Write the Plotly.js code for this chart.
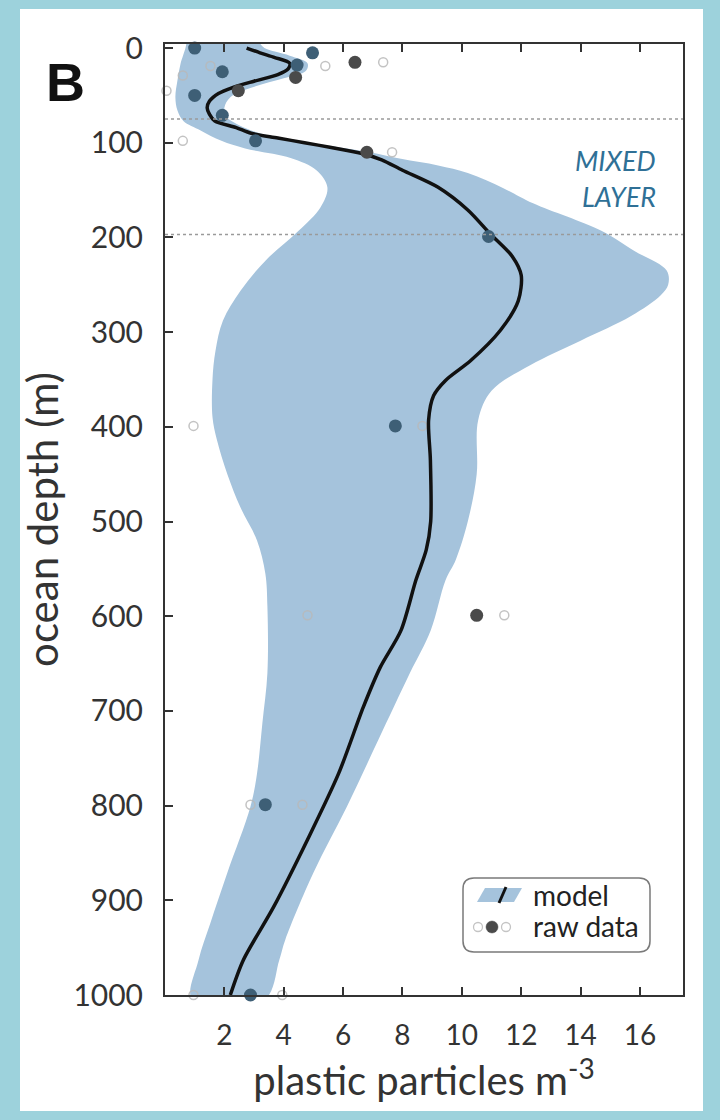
<!DOCTYPE html>
<html>
<head>
<meta charset="utf-8">
<script src="https://cdn.plot.ly/plotly-3.0.1.min.js"></script>
<style>html,body{margin:0;padding:0;background:#9dd2dc;}#chart{width:720px;height:1120px;}</style>
</head>
<body>
<div id="chart"></div>
<script>
// ---- data ----
const meanDepth = [0,5,10,16,22,28,35,42,48,56,63,70,77,84,90,95,100,105,111,118,129,147,171,196,220,240,267,298,330,351,367,393,435,500,530,562,615,654,696,766,836,907,963,1000];
const meanX     = [2.75,3.2,3.7,4.2,4.15,3.8,3.0,2.25,1.8,1.5,1.42,1.5,1.68,2.4,2.9,3.8,4.7,5.6,6.6,7.3,8.0,9.2,10.2,10.95,11.7,12.0,11.9,11.3,10.3,9.45,9.05,8.88,8.94,8.95,8.8,8.45,7.95,7.25,6.68,5.85,4.8,3.66,2.64,2.2];

const bandRightDepth = [-5,0,8,16,24,32,42,52,63,72,80,87,93,100,105,110,117,124,132,148,164,193,214,235,250,261,283,309,335,362,393,450,500,540,562,615,660,731,801,871,942,963,1005];
const bandRightX     = [3.2,3.35,4.2,4.8,4.75,4.0,2.9,2.2,2.0,2.05,2.4,2.9,3.6,4.9,5.9,6.9,7.95,9.2,10.2,11.4,12.4,14.7,15.8,16.9,16.95,16.7,15.7,14.0,12.3,11.0,10.55,10.5,10.2,9.8,9.45,8.95,8.25,7.18,6.13,5.0,4.05,3.85,3.35];

const bandLeftDepth = [-5,0,17,34,52,66,77,87,98,106,116,129,147,168,193,224,256,288,320,350,390,414,450,485,520,555,590,660,713,766,801,871,924,963,1005];
const bandLeftX     = [0.72,0.69,0.52,0.42,0.35,0.42,0.62,1.2,1.9,2.7,4.23,5.1,5.47,5.24,4.5,3.4,2.55,1.95,1.7,1.6,1.6,1.75,2.1,2.54,3.1,3.38,3.45,3.45,3.28,3.1,2.88,2.1,1.53,1.13,0.92];

// raw data: filled points (two shades) and open points
const rawBlueX     = [1.0,4.97,4.45,1.93,1.0,1.93,3.05,10.9,7.76,3.38,2.88];
const rawBlueDepth = [0,5,18,25,50,71,98,199,399,799,1000];
const rawGrayX     = [6.4,4.4,2.47,6.8,10.5];
const rawGrayDepth = [15,31,45,110,599];
const rawOpenX     = [5.4,7.35,1.53,0.6,0.05,0.6,7.65,0.96,8.67,4.8,11.43,2.88,4.63,0.96,3.95];
const rawOpenDepth = [19,15,19,29,45,98,110,399,399,599,599,799,799,1000,1000];

const xTicks = [2,4,6,8,10,12,14,16];
const yTicks = [0,100,200,300,400,500,600,700,800,900,1000];
const mixedLayerLines = [75,197];

// ---- styling ----
const bandColor = '#a5c3dc';
const axisColor = '#333333';
const textFont = 'Lato, "Open Sans", sans-serif';

// pixel -> paper helpers for decorations (plot area: x 165..683, y 44..995)
const L = 165, R = 683, T = 44, B = 995;
const px = v => (v - L) / (R - L);
const py = v => (B - v) / (B - T);

const bandX = bandRightX.concat(bandLeftX.slice().reverse());
const bandY = bandRightDepth.concat(bandLeftDepth.slice().reverse());

const traces = [
  {type:'scatter', mode:'lines', x:bandX, y:bandY, fill:'toself', fillcolor:bandColor,
   line:{width:0, shape:'spline', smoothing:1, color:bandColor}, hoverinfo:'skip', showlegend:false},
  {type:'scatter', mode:'markers', x:rawOpenX, y:rawOpenDepth, cliponaxis:false, showlegend:false,
   marker:{symbol:'circle-open', size:9, color:'rgba(185,185,185,0.85)', line:{width:1.5}}},
  {type:'scatter', mode:'lines', x:meanX, y:meanDepth, showlegend:false,
   line:{color:'#111111', width:3.5, shape:'spline', smoothing:0.8}},
  {type:'scatter', mode:'markers', x:rawBlueX, y:rawBlueDepth, cliponaxis:false, showlegend:false,
   marker:{symbol:'circle', size:13, color:'#3e5f76'}},
  {type:'scatter', mode:'markers', x:rawGrayX, y:rawGrayDepth, cliponaxis:false, showlegend:false,
   marker:{symbol:'circle', size:13, color:'#4a4a4a'}}
];

// rounded legend box
function roundRect(x0, y0, x1, y1, r) {
  const X0 = px(x0), X1 = px(x1), Y0 = py(y0), Y1 = py(y1);
  const rx = r / (R - L), ry = r / (B - T);
  return `M${X0+rx},${Y0} L${X1-rx},${Y0} Q${X1},${Y0} ${X1},${Y0-ry} L${X1},${Y1+ry} Q${X1},${Y1} ${X1-rx},${Y1} ` +
         `L${X0+rx},${Y1} Q${X0},${Y1} ${X0},${Y1+ry} L${X0},${Y0-ry} Q${X0},${Y0} ${X0+rx},${Y0} Z`;
}
function circ(cx, cy, r, fill, lineColor, lw) {
  return {type:'circle', xref:'paper', yref:'paper', x0:px(cx-r), x1:px(cx+r), y0:py(cy+r), y1:py(cy-r),
          fillcolor:fill, line:{color:lineColor, width:lw}, layer:'above'};
}

const shapes = [
  {type:'rect', xref:'paper', yref:'paper', x0:px(20), x1:px(703), y0:py(1111), y1:py(9),
   fillcolor:'#ffffff', line:{width:0}, layer:'below'},
  ...mixedLayerLines.map(d => ({type:'line', xref:'paper', yref:'y', x0:0, x1:1, y0:d, y1:d,
    line:{color:'#9a9a9a', width:1.5, dash:'dot'}, layer:'above'})),
  {type:'path', xref:'paper', yref:'paper', path:roundRect(463, 878, 650, 952, 11),
   fillcolor:'#ffffff', line:{color:'#7a7a7a', width:1.5}, layer:'above'},
  {type:'path', xref:'paper', yref:'paper',
   path:`M${px(477)},${py(902)} L${px(514)},${py(902)} L${px(522)},${py(888)} L${px(485)},${py(888)} Z`,
   fillcolor:bandColor, line:{width:0}, layer:'above'},
  {type:'line', xref:'paper', yref:'paper', x0:px(499), y0:py(903), x1:px(506), y1:py(887),
   line:{color:'#111111', width:3}, layer:'above'},
  circ(478, 927, 4.5, '#ffffff', '#c4c4c4', 1.3),
  circ(492, 927, 6, '#4a4a4a', '#4a4a4a', 0.5),
  circ(506, 927, 4.5, '#ffffff', '#c4c4c4', 1.3)
];

const annotations = [
  {xref:'paper', yref:'paper', x:px(65), y:py(82), text:'<b>B</b>', showarrow:false,
   xanchor:'center', yanchor:'middle', font:{family:'"Liberation Sans", Arial, sans-serif', size:54, color:'#111111'}},
  {xref:'x', yref:'y', x:16.6, y:119, text:'<i>MIXED</i>', showarrow:false, xanchor:'right', yanchor:'middle',
   font:{family:textFont, size:27, color:'#2f7096'}},
  {xref:'x', yref:'y', x:16.6, y:157, text:'<i>LAYER</i>', showarrow:false, xanchor:'right', yanchor:'middle',
   font:{family:textFont, size:27, color:'#2f7096'}},
  {xref:'paper', yref:'paper', x:px(531), y:py(895), text:'model', showarrow:false, xanchor:'left', yanchor:'middle',
   font:{family:textFont, size:28, color:'#222222'}},
  {xref:'paper', yref:'paper', x:px(531), y:py(926), text:'raw data', showarrow:false, xanchor:'left', yanchor:'middle',
   font:{family:textFont, size:28, color:'#222222'}}
];

const layout = {
  width:720, height:1120,
  margin:{l:L, r:720-R, t:T, b:1120-B, pad:0},
  paper_bgcolor:'#9dd2dc', plot_bgcolor:'rgba(0,0,0,0)',
  showlegend:false,
  xaxis:{range:[0,17.45], tickmode:'array', tickvals:xTicks, ticktext:xTicks.map(String),
    ticks:'inside', ticklen:8, tickwidth:2, tickcolor:axisColor,
    showline:true, linecolor:axisColor, linewidth:2, mirror:'ticks',
    showgrid:false, zeroline:false, ticklabelstandoff:14,
    tickfont:{family:textFont, size:28, color:'#333333'},
    title:{text:'plastic particles m<sup>-3</sup>', font:{family:textFont, size:40, color:'#333333'}, standoff:16}},
  yaxis:{range:[1000,-4.3], tickmode:'array', tickvals:yTicks, ticktext:yTicks.map(String),
    ticks:'inside', ticklen:8, tickwidth:2, tickcolor:axisColor,
    showline:true, linecolor:axisColor, linewidth:2, mirror:true,
    showgrid:false, zeroline:false, ticklabelstandoff:14,
    tickfont:{family:textFont, size:30, color:'#333333'},
    title:{text:'ocean depth (m)', font:{family:textFont, size:42, color:'#333333'}, standoff:2}},
  shapes:shapes,
  annotations:annotations
};

Plotly.newPlot('chart', traces, layout, {displayModeBar:false, staticPlot:true});
</script>
</body>
</html>
